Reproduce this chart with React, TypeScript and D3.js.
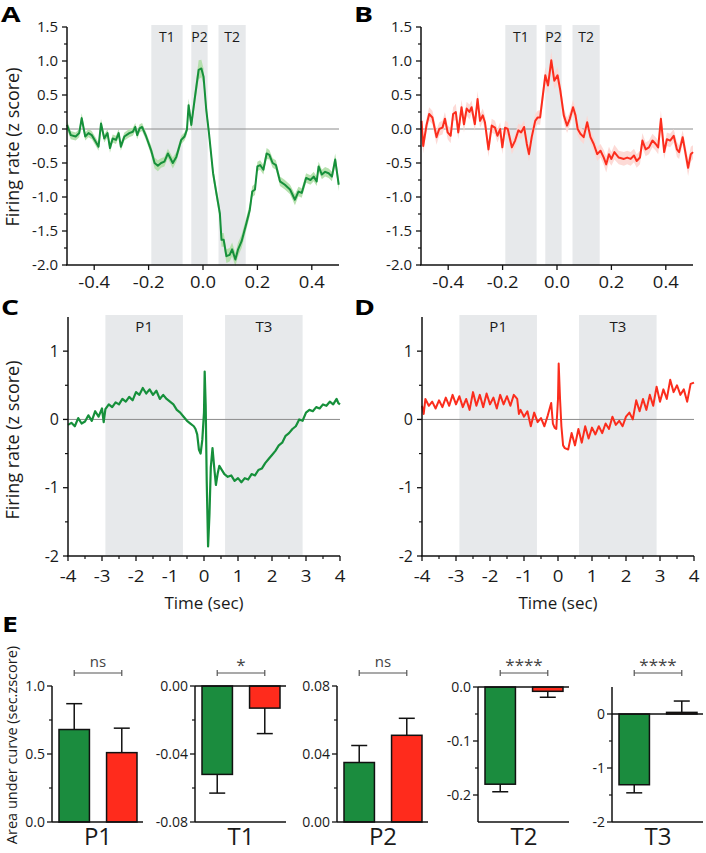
import React from "react";
import * as d3 from "d3";

const FONT = "'Open Sans', 'Noto Sans', sans-serif";
const GREEN = "#16903b";
const GREEN_SEM = "#afdea6";
const RED = "#fb2d1d";
const RED_SEM = "#fdd6d1";
const BAR_GREEN = "#1b8c3e";
const BAR_RED = "#ff2b1c";
const WINDOW_FILL = "#e7e9eb";

// ---------- Panel A (green, short window) ----------
const aTime = [-0.5, -0.486, -0.468, -0.455, -0.446, -0.433, -0.421, -0.409, -0.394, -0.384,
  -0.375, -0.363, -0.351, -0.342, -0.332, -0.32, -0.31, -0.302, -0.289, -0.271,
  -0.258, -0.249, -0.242, -0.233, -0.224, -0.209, -0.191, -0.178, -0.166, -0.154,
  -0.142, -0.129, -0.111, -0.098, -0.08, -0.068, -0.059, -0.053, -0.043, -0.031,
  -0.016, -0.006, 0.002, 0.012, 0.022, 0.037, 0.049, 0.062, 0.068, 0.076,
  0.086, 0.098, 0.107, 0.119, 0.129, 0.142, 0.16, 0.172, 0.181, 0.191,
  0.2, 0.21, 0.222, 0.234, 0.244, 0.256, 0.268, 0.283, 0.301, 0.32,
  0.338, 0.351, 0.363, 0.379, 0.395, 0.407, 0.418, 0.425, 0.437, 0.449,
  0.462, 0.474, 0.486, 0.499];
const aValue = [0.06, -0.09, -0.11, -0.06, 0.16, -0.11, -0.06, -0.09, -0.19, -0.26,
  0.08, -0.14, -0.06, -0.28, -0.14, -0.16, -0.06, -0.26, -0.11, -0.06,
  -0.04, 0.03, -0.09, 0.01, 0.03, -0.11, -0.31, -0.5, -0.54, -0.5,
  -0.48, -0.36, -0.5, -0.41, -0.16, -0.11, -0.01, 0.35, 0.06, 0.43,
  0.87, 0.89, 0.77, 0.28, -0.06, -0.65, -0.94, -1.24, -1.63, -1.63,
  -1.87, -1.85, -1.77, -1.92, -1.77, -1.65, -1.38, -1.19, -0.92, -0.89,
  -0.55, -0.53, -0.6, -0.36, -0.38, -0.5, -0.53, -0.77, -0.82, -0.89,
  -1.04, -0.92, -0.94, -0.72, -0.75, -0.7, -0.77, -0.55, -0.67, -0.63,
  -0.65, -0.7, -0.45, -0.82];
const aSem = [0.07, 0.06, 0.06, 0.06, 0.07, 0.06, 0.06, 0.06, 0.06, 0.06,
  0.07, 0.06, 0.06, 0.07, 0.06, 0.06, 0.06, 0.06, 0.06, 0.06,
  0.06, 0.06, 0.06, 0.06, 0.06, 0.06, 0.07, 0.08, 0.08, 0.07,
  0.07, 0.07, 0.08, 0.07, 0.06, 0.06, 0.07, 0.1, 0.09, 0.11,
  0.14, 0.13, 0.12, 0.1, 0.09, 0.09, 0.09, 0.1, 0.1, 0.1,
  0.1, 0.1, 0.1, 0.1, 0.1, 0.1, 0.09, 0.09, 0.08, 0.08,
  0.07, 0.07, 0.07, 0.08, 0.07, 0.07, 0.07, 0.07, 0.07, 0.07,
  0.08, 0.07, 0.07, 0.07, 0.07, 0.07, 0.07, 0.07, 0.07, 0.07,
  0.07, 0.07, 0.09, 0.09];

// ---------- Panel B (red, short window) ----------
const bTime = [-0.498, -0.492, -0.48, -0.47, -0.458, -0.443, -0.433, -0.421, -0.412, -0.402,
  -0.391, -0.382, -0.372, -0.363, -0.351, -0.342, -0.332, -0.322, -0.314, -0.302,
  -0.292, -0.283, -0.273, -0.265, -0.252, -0.24, -0.228, -0.219, -0.209, -0.201,
  -0.191, -0.181, -0.166, -0.154, -0.142, -0.132, -0.121, -0.111, -0.103, -0.093,
  -0.08, -0.071, -0.062, -0.043, -0.033, -0.021, -0.01, 0.002, 0.012, 0.025,
  0.037, 0.047, 0.059, 0.068, 0.076, 0.086, 0.098, 0.111, 0.123, 0.135,
  0.148, 0.16, 0.172, 0.181, 0.191, 0.2, 0.211, 0.227, 0.246, 0.258,
  0.271, 0.283, 0.293, 0.305, 0.314, 0.326, 0.338, 0.351, 0.363, 0.372,
  0.382, 0.394, 0.404, 0.416, 0.429, 0.441, 0.449, 0.462, 0.47, 0.482,
  0.492, 0.5];
const bValue = [0.12, -0.25, 0.05, 0.22, 0.17, -0.12, 0, 0.02, 0.15, -0.05,
  -0.1, 0.22, 0.25, -0.05, 0.32, 0.07, 0.3, 0.25, 0.32, 0.07,
  0.44, 0.12, 0.2, 0.1, -0.3, 0.05, 0.02, -0.1, 0, -0.27,
  0.02, 0, -0.27, -0.17, -0.02, -0.05, 0.03, -0.22, -0.37, -0.12,
  0.12, 0.17, 0.17, 0.79, 0.64, 1.01, 0.71, 0.79, 0.57, 0.2,
  0.05, 0.15, 0.32, 0.2, 0, -0.07, -0.12, 0.1, -0.12, -0.22,
  -0.37, -0.32, -0.42, -0.52, -0.37, -0.44, -0.34, -0.42, -0.44, -0.42,
  -0.44, -0.39, -0.47, -0.42, -0.17, -0.3, -0.27, -0.17, -0.22, -0.27,
  0.15, -0.34, -0.15, -0.17, -0.1, -0.3, -0.34, -0.12, -0.3, -0.57,
  -0.37, -0.34];
const bSem = [0.1, 0.11, 0.1, 0.1, 0.1, 0.11, 0.1, 0.1, 0.1, 0.1,
  0.11, 0.1, 0.12, 0.1, 0.11, 0.12, 0.1, 0.11, 0.1, 0.1,
  0.12, 0.1, 0.1, 0.1, 0.11, 0.1, 0.1, 0.1, 0.1, 0.1,
  0.1, 0.1, 0.1, 0.1, 0.1, 0.1, 0.1, 0.1, 0.1, 0.1,
  0.1, 0.1, 0.11, 0.12, 0.12, 0.13, 0.12, 0.12, 0.12, 0.11,
  0.11, 0.1, 0.11, 0.1, 0.1, 0.1, 0.1, 0.1, 0.1, 0.1,
  0.1, 0.1, 0.11, 0.12, 0.11, 0.1, 0.11, 0.1, 0.1, 0.1,
  0.1, 0.1, 0.1, 0.1, 0.11, 0.1, 0.1, 0.1, 0.1, 0.1,
  0.12, 0.1, 0.1, 0.1, 0.1, 0.11, 0.1, 0.1, 0.11, 0.12,
  0.11, 0.1];

// ---------- Panel C (green, long window) ----------
const cTime = [-4.0, -3.9, -3.8, -3.7, -3.6, -3.5, -3.4, -3.3, -3.2, -3.1,
  -3.0, -2.95, -2.9, -2.8, -2.7, -2.6, -2.5, -2.4, -2.3, -2.2,
  -2.1, -2.0, -1.9, -1.8, -1.7, -1.6, -1.5, -1.4, -1.3, -1.2,
  -1.1, -1.0, -0.9, -0.8, -0.7, -0.6, -0.5, -0.4, -0.3, -0.25,
  -0.2, -0.15, -0.1, -0.05, 0.0, 0.02, 0.05, 0.08, 0.12, 0.16,
  0.2, 0.25, 0.3, 0.35, 0.4, 0.45, 0.5, 0.6, 0.7, 0.8,
  0.9, 1.0, 1.1, 1.2, 1.3, 1.4, 1.5, 1.6, 1.7, 1.8,
  1.9, 2.0, 2.1, 2.2, 2.3, 2.4, 2.5, 2.6, 2.7, 2.8,
  2.9, 3.0, 3.1, 3.2, 3.3, 3.4, 3.5, 3.6, 3.7, 3.8,
  3.9, 3.95, 4.0];
const cValue = [-0.08, -0.05, -0.1, 0.02, -0.06, -0.03, 0.06, -0.02, 0.12, 0.04,
  0.16, -0.04, 0.15, 0.22, 0.18, 0.25, 0.22, 0.3, 0.26, 0.33,
  0.28, 0.4, 0.36, 0.46, 0.38, 0.44, 0.36, 0.42, 0.3, 0.36,
  0.3, 0.26, 0.22, 0.14, 0.1, 0.04, -0.02, -0.06, -0.1, -0.14,
  -0.22, -0.44, -0.5, -0.3, 0.1, 0.7, 0.2, -0.9, -1.86, -1.4,
  -0.7, -0.42, -0.7, -0.96, -0.8, -0.68, -0.72, -0.8, -0.84, -0.82,
  -0.9, -0.86, -0.92, -0.86, -0.88, -0.8, -0.82, -0.74, -0.72, -0.64,
  -0.58, -0.52, -0.46, -0.38, -0.34, -0.24, -0.2, -0.14, -0.1, 0.0,
  -0.02, 0.1, 0.14, 0.12, 0.18, 0.16, 0.22, 0.2, 0.26, 0.22,
  0.3, 0.24, 0.22];

// ---------- Panel D (red, long window) ----------
const dTime = [-4.0, -3.95, -3.9, -3.8, -3.7, -3.6, -3.5, -3.4, -3.3, -3.2,
  -3.1, -3.0, -2.9, -2.8, -2.7, -2.6, -2.5, -2.4, -2.3, -2.2,
  -2.1, -2.0, -1.9, -1.8, -1.7, -1.6, -1.5, -1.4, -1.3, -1.2,
  -1.15, -1.1, -1.0, -0.9, -0.8, -0.7, -0.6, -0.5, -0.4, -0.3,
  -0.2, -0.15, -0.1, -0.05, 0.0, 0.02, 0.06, 0.1, 0.15, 0.2,
  0.3, 0.4, 0.5, 0.6, 0.7, 0.8, 0.9, 1.0, 1.1, 1.2,
  1.3, 1.4, 1.5, 1.6, 1.7, 1.8, 1.9, 2.0, 2.1, 2.2,
  2.3, 2.4, 2.5, 2.6, 2.7, 2.8, 2.9, 3.0, 3.1, 3.2,
  3.3, 3.4, 3.5, 3.6, 3.7, 3.8, 3.9, 4.0];
const dValue = [0.2, 0.08, 0.3, 0.2, 0.26, 0.16, 0.28, 0.18, 0.32, 0.2,
  0.36, 0.22, 0.34, 0.18, 0.3, 0.14, 0.4, 0.2, 0.36, 0.18,
  0.38, 0.22, 0.32, 0.16, 0.36, 0.22, 0.34, 0.2, 0.36, 0.3,
  0.08, 0.14, 0.04, 0.12, -0.1, 0.1, -0.04, 0.02, -0.1, 0.06,
  0.24, -0.06, -0.12, -0.14, 0.3, 0.82, 0.3, -0.1, -0.38, -0.42,
  -0.44, -0.2, -0.38, -0.14, -0.34, -0.1, -0.28, -0.12, -0.22, -0.1,
  -0.2, -0.06, -0.14, 0.04, -0.08, -0.02, -0.1, 0.04, 0.1, 0.0,
  0.28, 0.12, 0.3, 0.14, 0.36, 0.2, 0.48, 0.26, 0.44, 0.3,
  0.58, 0.4, 0.5, 0.36, 0.44, 0.26, 0.52, 0.54];

// ---------- analysis windows & axes ----------
const shortWindowNames = ["T1", "P2", "T2"];
const shortWindowStart = [-0.19, -0.043, 0.057];
const shortWindowEnd = [-0.075, 0.017, 0.157];
const longWindowNames = ["P1", "T3"];
const longWindowStart = [-2.9, 0.62];
const longWindowEnd = [-0.62, 2.9];

const shortXTicks = [-0.4, -0.2, 0, 0.2, 0.4];
const shortYTicks = [-2, -1.5, -1, -0.5, 0, 0.5, 1, 1.5];
const shortYMinor = [-1.75, -1.25, -0.75, -0.25, 0.25, 0.75, 1.25];
const longXTicks = [-4, -3, -2, -1, 0, 1, 2, 3, 4];
const longXMinor = [-3.5, -2.5, -1.5, -0.5, 0.5, 1.5, 2.5, 3.5];
const longYTicks = [-2, -1, 0, 1];
const longYMinor = [-1.5, -0.5, 0.5];

// ---------- Panel E (area under curve) ----------
const barCategories = ["P1", "T1", "P2", "T2", "T3"];
const barGroups = ["green", "red"];
const greenMeans = [0.68, -0.052, 0.035, -0.18, -1.31];
const greenErrors = [0.19, 0.011, 0.01, 0.014, 0.15];
const redMeans = [0.51, -0.013, 0.051, -0.008, 0.03];
const redErrors = [0.18, 0.015, 0.01, 0.011, 0.21];
const significance = ["ns", "*", "ns", "****", "****"];
const barDomains = [[0, 1], [-0.08, 0], [0, 0.08], [-0.25, 0], [-2, 0.5]];
const barTicks = [[0, 0.5, 1], [-0.08, -0.04, 0], [0, 0.04, 0.08], [-0.2, -0.1, 0], [-2, -1, 0]];
const barTickLabels = [["0.0", "0.5", "1.0"], ["-0.08", "-0.04", "0.00"], ["0.00", "0.04", "0.08"], ["-0.2", "-0.1", "0.0"], ["-2", "-1", "0"]];
const barMinorTicks = [[0.25, 0.75], [-0.06, -0.02], [0.02, 0.06], [-0.15, -0.05], [-1.5, -0.5]];

// layout (pixels)
const barAxisX = [52, 195, 337, 478, 612];
const barAxisTop = [686, 686, 686, 687, 687];

const fmt1 = (v: number) => (Math.abs(v) < 1e-9 ? "0.0" : v.toFixed(1));
const fmt0 = (v: number) => String(v);

function Label({ x, y, size, children, anchor = "middle", weight = 400, sx = 1, fill = "#1a1a1a", rotate = 0 }: any) {
  return (
    <text
      transform={`translate(${x},${y}) rotate(${rotate}) scale(${sx},1)`}
      fontSize={size}
      textAnchor={anchor}
      fontWeight={weight}
      fill={fill}
      fontFamily={FONT}
    >
      {children}
    </text>
  );
}

function LinePanel(p: any) {
  const x = d3.scaleLinear().domain(p.xDomain).range([p.ox, p.ox + 272]);
  const y = d3.scaleLinear().domain(p.yDomain).range([p.yBot, p.yTop]);
  const idx = d3.range(p.time.length);
  const line = d3.line<number>().x((i) => x(p.time[i])).y((i) => y(p.value[i]));
  const area = p.sem
    ? d3.area<number>().x((i) => x(p.time[i])).y0((i) => y(p.value[i] - p.sem[i])).y1((i) => y(p.value[i] + p.sem[i]))
    : null;
  const [x0, x1] = x.range();
  return (
    <g>
      {p.winNames.map((n: string, i: number) => (
        <g key={n}>
          <rect x={x(p.winStart[i])} y={p.bandTop} width={x(p.winEnd[i]) - x(p.winStart[i])} height={p.yBot - p.bandTop} fill={WINDOW_FILL} />
          <Label x={(x(p.winStart[i]) + x(p.winEnd[i])) / 2} y={p.winLabelY} size={p.winFont}>{n}</Label>
        </g>
      ))}
      <line x1={x0} x2={x1} y1={y(0)} y2={y(0)} stroke="#8c8c8c" strokeWidth={1} />
      {area && <path d={area(idx) || ""} fill={p.semColor} opacity={0.9} />}
      <path d={line(idx) || ""} fill="none" stroke={p.color} strokeWidth={p.strokeW} strokeLinejoin="round" />
      {/* y axis */}
      <line x1={x0} x2={x0} y1={p.yTop} y2={p.yBot} stroke="#111" strokeWidth={1.5} />
      {p.yTicks.map((t: number) => (
        <g key={"y" + t}>
          <line x1={x0 - 5} x2={x0} y1={y(t)} y2={y(t)} stroke="#111" strokeWidth={1.3} />
          <Label x={x0 - 9} y={y(t) + p.tickFont * 0.36} size={p.tickFont} anchor="end">{p.yFmt(t)}</Label>
        </g>
      ))}
      {p.yMinor.map((t: number) => (
        <line key={"ym" + t} x1={x0 - 3} x2={x0} y1={y(t)} y2={y(t)} stroke="#111" strokeWidth={1.2} />
      ))}
      {/* x axis */}
      <line x1={x0 - 1} x2={x1} y1={p.yBot} y2={p.yBot} stroke="#111" strokeWidth={1.5} />
      {p.xTicks.map((t: number) => (
        <g key={"x" + t}>
          <line x1={x(t)} x2={x(t)} y1={p.yBot} y2={p.yBot + 5} stroke="#111" strokeWidth={1.3} />
          <Label x={x(t)} y={p.yBot + p.xLabelDy} size={p.xTickFont} sx={p.xTickSx}>{p.xFmt(t)}</Label>
        </g>
      ))}
      {p.xMinor.map((t: number) => (
        <line key={"xm" + t} x1={x(t)} x2={x(t)} y1={p.yBot} y2={p.yBot + 3} stroke="#111" strokeWidth={1.2} />
      ))}
    </g>
  );
}

function BarPanel({ i }: { i: number }) {
  const ox = barAxisX[i];
  const x1 = ox + 91;
  const yTop = barAxisTop[i];
  const yBot = 822;
  const y = d3.scaleLinear().domain(barDomains[i]).range([yBot, yTop]);
  const xb = d3.scaleBand().domain(barGroups).range([ox + 7, ox + 85]).paddingInner(0.36).paddingOuter(0);
  const means = [greenMeans[i], redMeans[i]];
  const errs = [greenErrors[i], redErrors[i]];
  const fills = [BAR_GREEN, BAR_RED];
  const bw = xb.bandwidth();
  const cx = barGroups.map((g) => (xb(g) as number) + bw / 2);
  const sigY = 673;
  return (
    <g>
      {barGroups.map((g, k) => {
        const v = means[k];
        const top = Math.min(y(v), y(0));
        const h = Math.abs(y(v) - y(0));
        const end = v >= 0 ? v + errs[k] : v - errs[k];
        return (
          <g key={g}>
            <line x1={cx[k]} x2={cx[k]} y1={y(v)} y2={y(end)} stroke="#111" strokeWidth={1.5} />
            <line x1={cx[k] - 8} x2={cx[k] + 8} y1={y(end)} y2={y(end)} stroke="#111" strokeWidth={1.5} />
            <rect x={xb(g)} y={top} width={bw} height={Math.max(h, 1)} fill={fills[k]} stroke="#111" strokeWidth={1.5} />
          </g>
        );
      })}
      {/* axes */}
      <line x1={ox} x2={ox} y1={yTop} y2={yBot} stroke="#111" strokeWidth={1.5} />
      <line x1={ox} x2={x1} y1={yBot} y2={yBot} stroke="#111" strokeWidth={1.5} />
      {barDomains[i][0] < 0 && <line x1={ox} x2={x1} y1={y(0)} y2={y(0)} stroke="#111" strokeWidth={1.5} />}
      {barTicks[i].map((t, k) => (
        <g key={"t" + t}>
          <line x1={ox - 5} x2={ox} y1={y(t)} y2={y(t)} stroke="#111" strokeWidth={1.3} />
          <Label x={ox - 7} y={y(t) + 5} size={14} anchor="end">{barTickLabels[i][k]}</Label>
        </g>
      ))}
      {barMinorTicks[i].map((t) => (
        <line key={"m" + t} x1={ox - 3} x2={ox} y1={y(t)} y2={y(t)} stroke="#111" strokeWidth={1.2} />
      ))}
      {/* significance */}
      <line x1={cx[0]} x2={cx[1]} y1={sigY} y2={sigY} stroke="#555" strokeWidth={1.2} />
      <line x1={cx[0]} x2={cx[0]} y1={sigY - 3} y2={sigY + 3} stroke="#555" strokeWidth={1.2} />
      <line x1={cx[1]} x2={cx[1]} y1={sigY - 3} y2={sigY + 3} stroke="#555" strokeWidth={1.2} />
      <Label x={(cx[0] + cx[1]) / 2} y={significance[i] === "ns" ? 667 : 671} size={significance[i] === "ns" ? 15 : 17} fill="#444">
        {significance[i]}
      </Label>
      <Label x={(cx[0] + cx[1]) / 2} y={845} size={24}>{barCategories[i]}</Label>
    </g>
  );
}

export default function App() {
  const shortCommon = {
    xDomain: [-0.5, 0.5],
    yDomain: [-2, 1.5],
    yTop: 27,
    yBot: 265,
    bandTop: 25,
    winNames: shortWindowNames,
    winStart: shortWindowStart,
    winEnd: shortWindowEnd,
    winLabelY: 42,
    winFont: 14,
    xTicks: shortXTicks,
    xMinor: [],
    yTicks: shortYTicks,
    yMinor: shortYMinor,
    xFmt: fmt1,
    yFmt: fmt1,
    tickFont: 15,
    xTickFont: 16,
    xTickSx: 1.15,
    xLabelDy: 23,
    strokeW: 2,
  };
  const longCommon = {
    xDomain: [-4, 4],
    yDomain: [-2, 1.5],
    yTop: 317,
    yBot: 556,
    bandTop: 315,
    winNames: longWindowNames,
    winStart: longWindowStart,
    winEnd: longWindowEnd,
    winLabelY: 332,
    winFont: 15,
    xTicks: longXTicks,
    xMinor: longXMinor,
    yTicks: longYTicks,
    yMinor: longYMinor,
    xFmt: fmt0,
    yFmt: fmt0,
    tickFont: 16,
    xTickFont: 17,
    xTickSx: 1.1,
    xLabelDy: 26,
    strokeW: 2.2,
  };
  return (
    <svg width={706} height={853} style={{ position: "absolute", left: 0, top: 0, display: "block" }}>
      <rect width={706} height={853} fill="#ffffff" />
      <LinePanel {...shortCommon} ox={67} time={aTime} value={aValue} sem={aSem} color={GREEN} semColor={GREEN_SEM} />
      <LinePanel {...shortCommon} ox={421} time={bTime} value={bValue} sem={bSem} color={RED} semColor={RED_SEM} />
      <LinePanel {...longCommon} ox={68} time={cTime} value={cValue} color={GREEN} />
      <LinePanel {...longCommon} ox={422} time={dTime} value={dValue} color={RED} strokeW={2} />

      <Label x={19} y={147} size={18} rotate={-90}>Firing rate (z score)</Label>
      <Label x={19} y={440} size={18} rotate={-90}>Firing rate (z score)</Label>
      <Label x={204} y={609} size={17}>Time (sec)</Label>
      <Label x={558} y={609} size={17}>Time (sec)</Label>
      <Label x={17} y={745} size={14.5} rotate={-90}>Area under curve (sec.zscore)</Label>

      <Label x={1} y={22} size={21} weight={700} anchor="start" sx={1.35} fill="#000">A</Label>
      <Label x={354} y={22} size={21} weight={700} anchor="start" sx={1.35} fill="#000">B</Label>
      <Label x={1} y={315} size={21} weight={700} anchor="start" sx={1.35} fill="#000">C</Label>
      <Label x={354} y={315} size={21} weight={700} anchor="start" sx={1.35} fill="#000">D</Label>
      <Label x={2} y={632} size={21} weight={700} anchor="start" sx={1.35} fill="#000">E</Label>

      {barCategories.map((c, i) => (
        <BarPanel key={c} i={i} />
      ))}
    </svg>
  );
}
